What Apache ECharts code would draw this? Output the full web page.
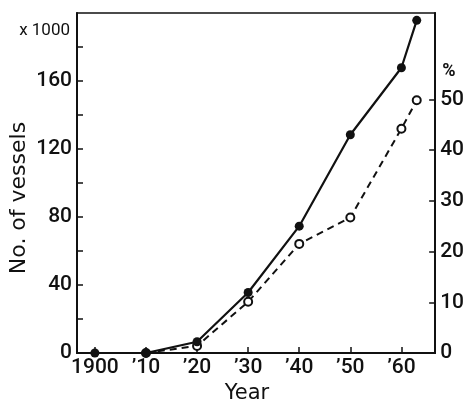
<!DOCTYPE html>
<html>
<head>
<meta charset="utf-8">
<script src="https://cdn.jsdelivr.net/npm/echarts@6/dist/echarts.min.js"></script>
<style>
  html, body { margin: 0; padding: 0; background: #ffffff; }
  #chart { width: 467px; height: 405px; }
</style>
</head>
<body>
<div id="chart"></div>
<script>
// Number of vessels (thousands), filled markers, left axis
const vesselYears = [1900, 1910, 1920, 1930, 1940, 1950, 1960, 1963];
const vessels = [0, 0, 6.6, 35.6, 74.6, 128.4, 167.8, 195.7];

// Share in percent, open markers, right axis
const shareYears = [1910, 1920, 1930, 1940, 1950, 1960, 1963];
const share = [0, 1.4, 10.1, 21.5, 26.7, 44.2, 49.8];

// Axis ticks and labels
const yearTicks = [1900, 1910, 1920, 1930, 1940, 1950, 1960];
const leftLabels = [0, 40, 80, 120, 160];
const leftTicks = [20, 40, 60, 80, 100, 120, 140, 160, 180];
const rightTicks = [0, 10, 20, 30, 40, 50];

const ink = '#111111';
const font = 'Roboto, "DejaVu Sans", sans-serif';

function yearLabel(v) {
  return v === 1900 ? '1900' : '\u2019' + String(v).slice(2);
}

const chart = echarts.init(document.getElementById('chart'), null, { renderer: 'canvas' });

chart.setOption({
  animation: false,
  backgroundColor: '#ffffff',
  grid: {
    left: 77, right: 31, top: 13, bottom: 52,
    show: true, borderColor: ink, borderWidth: 1.5, backgroundColor: 'transparent'
  },
  xAxis: {
    type: 'value',
    min: 1896.5,
    max: 1966.6,
    axisLine: { show: true, onZero: false, lineStyle: { color: ink, width: 2 } },
    axisTick: { show: true, inside: true, length: 6, customValues: yearTicks, lineStyle: { color: ink, width: 1.5 } },
    axisLabel: {
      customValues: yearTicks,
      formatter: yearLabel,
      color: ink, fontFamily: font, fontSize: 21, fontWeight: 500, margin: 4
    },
    splitLine: { show: false }
  },
  yAxis: [
    {
      type: 'value',
      position: 'left',
      min: 0, max: 200,
      axisLine: { show: true, lineStyle: { color: ink, width: 2 } },
      axisTick: { show: true, inside: true, length: 6, customValues: leftTicks, lineStyle: { color: ink, width: 1.5 } },
      axisLabel: { customValues: leftLabels, color: ink, fontFamily: font, fontSize: 21, fontWeight: 500, margin: 5 },
      splitLine: { show: false }
    },
    {
      type: 'value',
      position: 'right',
      min: 0, max: 67,
      axisLine: { show: true, lineStyle: { color: ink, width: 2 } },
      axisTick: { show: true, inside: true, length: 6, customValues: rightTicks.slice(1), lineStyle: { color: ink, width: 1.5 } },
      axisLabel: { customValues: rightTicks, color: ink, fontFamily: font, fontSize: 21, fontWeight: 500, margin: 5 },
      splitLine: { show: false }
    }
  ],
  graphic: [
    {
      type: 'text',
      x: 19, y: 198, rotation: Math.PI / 2,
      style: { text: 'No. of vessels', font: '22px "DejaVu Sans", sans-serif', fill: ink, align: 'center', verticalAlign: 'middle' }
    },
    {
      type: 'text',
      x: 247, y: 394,
      style: { text: 'Year', font: '21px "DejaVu Sans", sans-serif', fill: ink, align: 'center', verticalAlign: 'middle' }
    },
    {
      type: 'text',
      x: 70, y: 31,
      style: { text: 'x 1000', font: '17px ' + font, fill: ink, align: 'right', verticalAlign: 'middle' }
    },
    {
      type: 'text',
      x: 449, y: 71,
      style: { text: '%', font: 'bold 18px ' + font, fill: ink, align: 'center', verticalAlign: 'middle' }
    }
  ],
  series: [
    {
      name: 'No. of vessels',
      type: 'line',
      yAxisIndex: 0,
      data: vesselYears.map((y, i) => [y, vessels[i]]),
      symbol: 'circle', symbolSize: 9,
      itemStyle: { color: ink },
      lineStyle: { color: ink, width: 2.2 },
      z: 3
    },
    {
      name: 'Share',
      type: 'line',
      yAxisIndex: 1,
      data: shareYears.map((y, i) => [y, share[i]]),
      symbol: 'emptyCircle', symbolSize: 8,
      itemStyle: { color: ink, borderWidth: 1.8 },
      lineStyle: { color: ink, width: 2, type: [7, 5] },
      z: 2
    }
  ]
});
</script>
</body>
</html>
